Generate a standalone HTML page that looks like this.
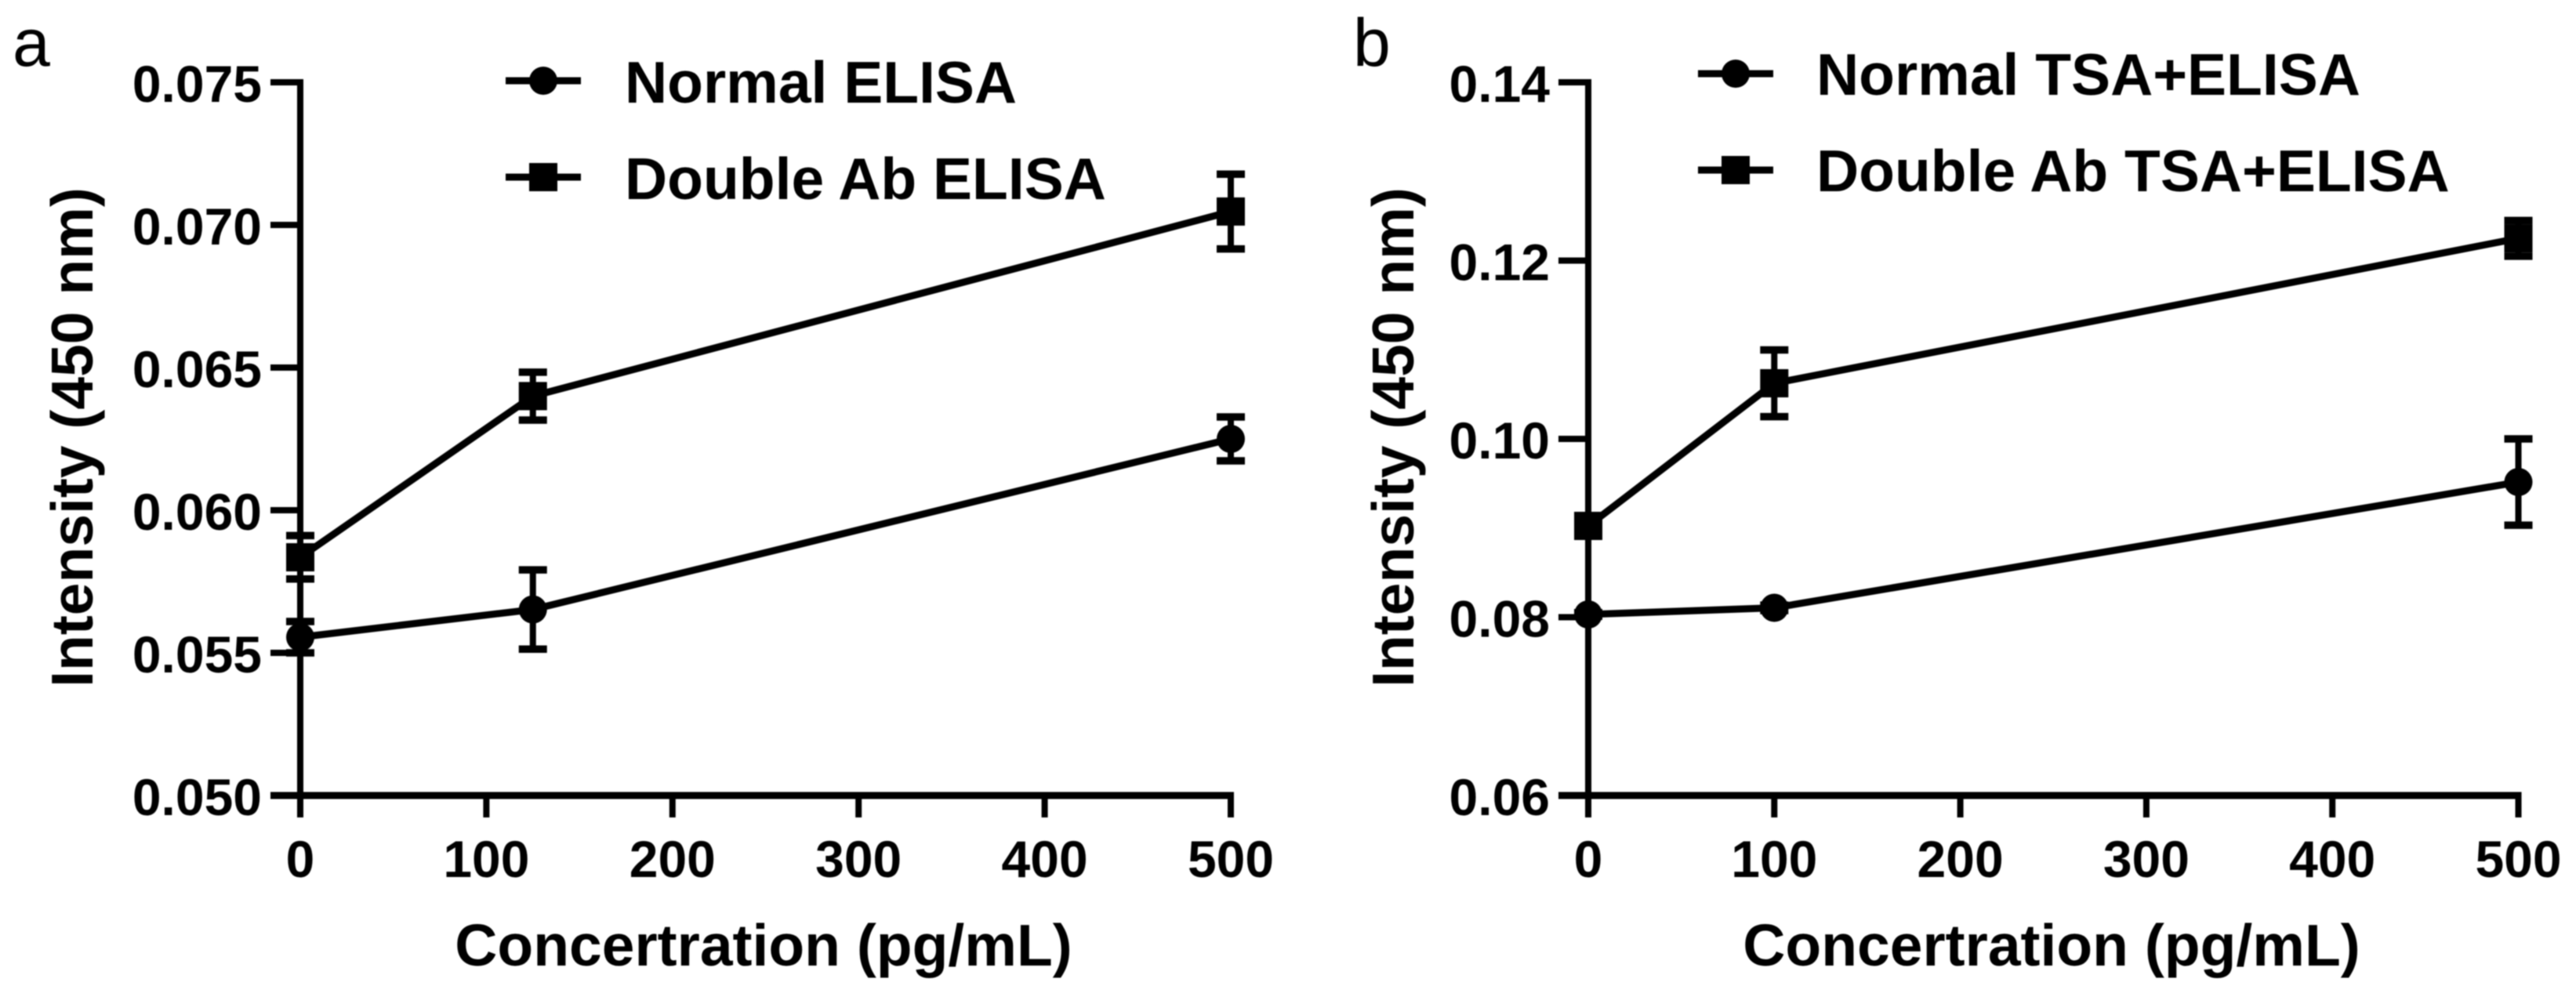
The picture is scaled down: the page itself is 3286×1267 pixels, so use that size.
<!DOCTYPE html>
<html lang="en">
<head>
<meta charset="utf-8">
<title>ELISA intensity charts</title>
<style>
html,body{margin:0;padding:0;background:#fff;width:3286px;height:1267px;overflow:hidden}
svg{display:block;filter:blur(0.9px)}
text{font-family:"Liberation Sans",Arial,sans-serif;fill:#000}
.b{font-weight:bold}
.tick{font-size:66px;font-weight:bold}
.title{font-size:75px;font-weight:bold}
.panel{font-size:86px}
</style>
</head>
<body>
<svg id="root" xmlns="http://www.w3.org/2000/svg" width="3286" height="1267" viewBox="0 0 3286 1267">
  <rect width="3286" height="1267" fill="#fff"/>
  <text class="panel" x="16" y="84">a</text>
  <text class="panel" x="1726" y="84">b</text>
  <text class="title" x="974" y="1232" text-anchor="middle">Concertration (pg/mL)</text>
  <text class="title" x="2617" y="1232" text-anchor="middle">Concertration (pg/mL)</text>
  <text class="title" text-anchor="middle" transform="translate(118,558) rotate(-90)">Intensity (450 nm)</text>
  <text class="title" text-anchor="middle" transform="translate(1803,558) rotate(-90)">Intensity (450 nm)</text>
  <text class="title" x="797" y="131">Normal ELISA</text>
  <text class="title" x="797" y="254">Double Ab ELISA</text>
  <text class="title" x="2317" y="121">Normal TSA+ELISA</text>
  <text class="title" x="2317" y="244">Double Ab TSA+ELISA</text>
</svg>
<script>
// Panel a data
const xTicksA = [0, 100, 200, 300, 400, 500];
const yTicksA = ["0.050", "0.055", "0.060", "0.065", "0.070", "0.075"];
const concA = [0, 125, 500];
const normalA = [0.05555, 0.05652, 0.0625];
const normalErrA = [0.00055, 0.00139, 0.00077];
const doubleA = [0.05835, 0.0640, 0.07047];
const doubleErrA = [0.00076, 0.00084, 0.00131];

// Panel b data
const xTicksB = [0, 100, 200, 300, 400, 500];
const yTicksB = ["0.06", "0.08", "0.10", "0.12", "0.14"];
const concB = [0, 100, 500];
const normalB = [0.08031, 0.08105, 0.09516];
const normalErrB = [0.0002, 0.0003, 0.00484];
const doubleB = [0.09024, 0.10624, 0.1225];
const doubleErrB = [0.0003, 0.00374, 0.0020];

const NS = 'http://www.w3.org/2000/svg';
const root = document.getElementById('root');

function mk(tag, parent) {
  const el = document.createElementNS(NS, tag);
  (parent || root).appendChild(el);
  return el;
}
function lineEl(parent, x1, y1, x2, y2, w) {
  const l = mk('line', parent);
  l.setAttribute('x1', x1);
  l.setAttribute('y1', y1);
  l.setAttribute('x2', x2);
  l.setAttribute('y2', y2);
  l.setAttribute('stroke', '#000');
  l.setAttribute('stroke-width', w);
  return l;
}
function marker(parent, shape, cx, cy) {
  let m;
  if (shape === 'circle') {
    m = mk('circle', parent);
    m.setAttribute('cx', cx);
    m.setAttribute('cy', cy);
    m.setAttribute('r', 18);
  } else {
    m = mk('rect', parent);
    m.setAttribute('x', cx - 18);
    m.setAttribute('y', cy - 18);
    m.setAttribute('width', 36);
    m.setAttribute('height', 36);
  }
  m.setAttribute('fill', '#000');
  return m;
}

function drawPanel(id, opt) {
  const x = v => opt.x0 + (v - 0) / 500 * (opt.x500 - opt.x0);
  const yMin = parseFloat(opt.yTicks[0]);
  const yMax = parseFloat(opt.yTicks[opt.yTicks.length - 1]);
  const y = v => 1015 - (v - yMin) / (yMax - yMin) * 910;

  const axes = mk('g');
  
  

  const yAxis = lineEl(axes, opt.x0, y(yMax) - 4, opt.x0, 1015, 8);
  
  

  const xAxis = lineEl(axes, opt.x0 - 38, 1015, opt.x500 + 4, 1015, 9);
  
  

  opt.yTicks.forEach(t => {
    const v = parseFloat(t);
    const tk = lineEl(axes, opt.x0 - 38, y(v), opt.x0, y(v), 8);
    
    
    const lb = mk('text', axes);
    lb.setAttribute('class', 'tick');
    lb.setAttribute('x', opt.x0 - 49);
    lb.setAttribute('y', y(v) + 25);
    lb.setAttribute('text-anchor', 'end');
    lb.textContent = t;
    
    
  });

  opt.xTicks.forEach(t => {
    const tk = lineEl(axes, x(t), 1015, x(t), 1043, 8);
    
    
    const lb = mk('text', axes);
    lb.setAttribute('class', 'tick');
    lb.setAttribute('x', x(t));
    lb.setAttribute('y', 1119);
    lb.setAttribute('text-anchor', 'middle');
    lb.textContent = String(t);
    
    
  });

  opt.series.forEach(s => {
    const g = mk('g');
    
    

    const path = mk('polyline', g);
    path.setAttribute('points', opt.conc.map((c, i) => x(c) + ',' + y(s.values[i])).join(' '));
    path.setAttribute('fill', 'none');
    path.setAttribute('stroke', '#000');
    path.setAttribute('stroke-width', 9);
    
    

    opt.conc.forEach((c, i) => {
      const top = y(s.values[i] + s.errs[i]);
      const bot = y(s.values[i] - s.errs[i]);
      const stem = lineEl(g, x(c), top, x(c), bot, 8);
      
      
      const cap1 = lineEl(g, x(c) - 18, top, x(c) + 18, top, 9.5);
      
      
      const cap2 = lineEl(g, x(c) - 18, bot, x(c) + 18, bot, 9.5);
      
      
      const m = marker(g, s.shape, x(c), y(s.values[i]));
      
      
    });
  });

  opt.legend.forEach(e => {
    const g = mk('g');
    
    
    const k = lineEl(g, e.cx - 48, e.cy, e.cx + 48, e.cy, 9);
    
    
    const m = marker(g, e.shape, e.cx, e.cy);
    
    
  });
}

drawPanel('a', {
  x0: 383, x500: 1570,
  xTicks: xTicksA, yTicks: yTicksA, conc: concA,
  series: [
    {name: 'normal', shape: 'circle', values: normalA, errs: normalErrA},
    {name: 'double', shape: 'square', values: doubleA, errs: doubleErrA}
  ],
  legend: [
    {name: 'normal', shape: 'circle', cx: 693, cy: 103},
    {name: 'double', shape: 'square', cx: 693, cy: 226}
  ]
});
drawPanel('b', {
  x0: 2026, x500: 3212.5,
  xTicks: xTicksB, yTicks: yTicksB, conc: concB,
  series: [
    {name: 'normal', shape: 'circle', values: normalB, errs: normalErrB},
    {name: 'double', shape: 'square', values: doubleB, errs: doubleErrB}
  ],
  legend: [
    {name: 'normal', shape: 'circle', cx: 2214, cy: 94},
    {name: 'double', shape: 'square', cx: 2214, cy: 217}
  ]
});
</script>
</body>
</html>
